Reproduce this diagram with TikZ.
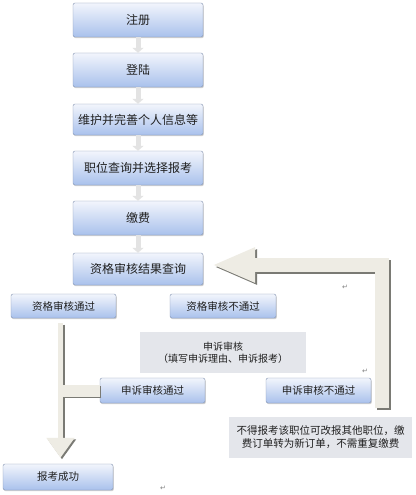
\documentclass[tikz,border=0pt]{standalone}
\usepackage{fontspec}
\newfontfamily\cjk{Noto Sans CJK SC}
\newfontfamily\symfont{DejaVu Sans}
\usetikzlibrary{arrows.meta,shadows,positioning}
\definecolor{boxtop}{HTML}{F2F5FC}
\definecolor{boxbot}{HTML}{A9C1EC}
\definecolor{boxline}{HTML}{8292B0}
\definecolor{flowgray}{HTML}{EEECE4}
\definecolor{flowedge}{HTML}{7A7A74}
\definecolor{notegray}{HTML}{E4E6EB}
\definecolor{textdark}{HTML}{202020}

\begin{document}
\begin{tikzpicture}[
    x=1pt, y=-1pt,
    box/.style={rectangle, draw=boxline, rounded corners=2pt, top color=boxtop, bottom color=boxbot,
        text centered, inner sep=0pt, text=textdark, font=\cjk\fontsize{12}{14}\selectfont,
        drop shadow={opacity=0.35, shadow xshift=0.8pt, shadow yshift=-1.2pt}},
    smallbox/.style={box, font=\cjk\fontsize{10.5}{12}\selectfont},
    note/.style={rectangle, fill=notegray, align=center, inner sep=0pt, text=textdark},
    link/.style={-{Triangle[width=11pt,length=5pt]}, line width=5pt, draw=gray!22},
    flowbar/.style={draw=flowgray, line join=miter},
    flowshade/.style={draw=flowedge, line join=miter},
    retmark/.style={text=gray, font=\symfont\fontsize{7}{8}\selectfont, inner sep=0pt}
]
    \useasboundingbox[fill=white] (0,0) rectangle (415,495);

    \node[box, minimum width=130pt, minimum height=34pt] (register) at (138,20) {注册};
    \node[box, minimum width=130pt, minimum height=34pt] (login) at (138,70) {登陆};
    \node[box, minimum width=130pt, minimum height=31pt] (profile) at (138,119.5) {维护并完善个人信息等};
    \node[box, minimum width=130pt, minimum height=34pt] (select) at (138,168) {职位查询并选择报考};
    \node[box, minimum width=130pt, minimum height=34pt] (pay) at (138,218) {缴费};
    \node[box, minimum width=130pt, minimum height=32pt] (check) at (138,269) {资格审核结果查询};

    \node[smallbox, minimum width=105pt, minimum height=24pt] (pass) at (63.5,306) {资格审核通过};
    \node[smallbox, minimum width=106pt, minimum height=24pt] (fail) at (223,306) {资格审核不通过};
    \node[note, minimum width=166pt, minimum height=41pt, font=\cjk\fontsize{10}{12.5}\selectfont] (appeal) at (223,352.5) {申诉审核\\（填写申诉理由、申诉报考）};
    \node[smallbox, minimum width=105pt, minimum height=25pt] (appealok) at (152.5,390.5) {申诉审核通过};
    \node[smallbox, minimum width=105pt, minimum height=25pt] (appealno) at (318.5,390.5) {申诉审核不通过};
    \node[note, minimum width=183pt, minimum height=41pt, font=\cjk\fontsize{10.5}{13}\selectfont] (info) at (320.5,437.5) {不得报考该职位可改报其他职位，缴\\费订单转为新订单，不需重复缴费};
    \node[smallbox, minimum width=110pt, minimum height=26pt] (success) at (58,477) {报考成功};

    \draw[link] (register) -- (login);
    \draw[link] (login) -- (profile);
    \draw[link] (profile) -- (select);
    \draw[link] (select) -- (pay);
    \draw[link] (pay) -- (check);

    \coordinate (rbot) at (381.5,408);
    \coordinate (rtip) at (212,265);
    \begin{scope}[transform canvas={xshift=2pt, yshift=-2pt}]
        \draw[flowshade, line width=14pt, -{Triangle[width=32pt,length=43pt]}] (rbot) |- (rtip);
    \end{scope}
    \draw[flowbar, line width=14pt, -{Triangle[width=32pt,length=43pt]}] (rbot) |- (rtip);

    \coordinate (ltop) at (60.5,323);
    \begin{scope}[transform canvas={xshift=1.5pt, yshift=-1.5pt}]
        \draw[flowshade, line width=12pt] (appealok.west) -- (appealok.west -| ltop);
        \draw[flowshade, line width=5pt, -{Triangle[width=27pt,length=20pt]}, shorten >=6pt] (ltop) -- (ltop |- success.north);
    \end{scope}
    \draw[flowbar, line width=12pt] (appealok.west) -- (appealok.west -| ltop);
    \draw[flowbar, line width=5pt, -{Triangle[width=27pt,length=20pt]}, shorten >=6pt] (ltop) -- (ltop |- success.north);

    \node[retmark] (ret1) at (345,287) {↵};
    \node[retmark] (ret2) at (365,371) {↵};
    \node[retmark] (ret3) at (163,488) {↵};
\end{tikzpicture}
\end{document}
